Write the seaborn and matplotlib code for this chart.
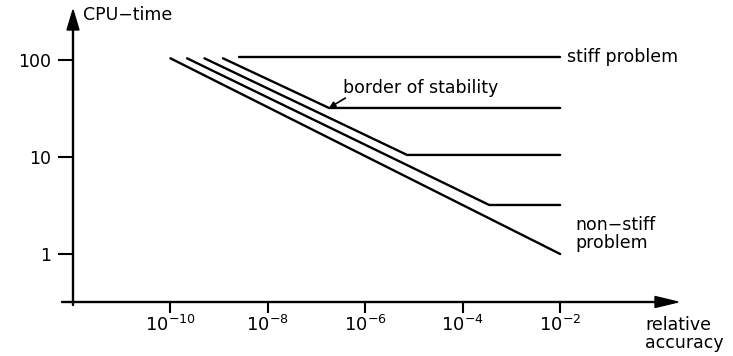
import matplotlib
matplotlib.use("Agg")
import matplotlib.pyplot as plt
from matplotlib.patches import Polygon
from matplotlib.ticker import NullLocator, FixedFormatter, FixedLocator
import seaborn as sns

# Work-precision sketch: CPU time versus requested relative accuracy
nonstiff_acc = [1e-10, 1e-2]
nonstiff_cpu = [104, 1]

curve_b_acc = [2.2e-10, 3.5e-4, 1e-2]
curve_b_cpu = [104, 3.2, 3.2]

curve_c_acc = [5.0e-10, 7.2e-6, 1e-2]
curve_c_cpu = [104, 10.5, 10.5]

curve_d_acc = [1.2e-9, 1.8e-7, 1e-2]
curve_d_cpu = [104, 32, 32]

stiff_acc = [2.5e-9, 1e-2]
stiff_cpu = [107, 107]

x_ticks = [1e-10, 1e-8, 1e-6, 1e-4, 1e-2]
x_tick_labels = [r"$10^{-10}$", r"$10^{-8}$", r"$10^{-6}$", r"$10^{-4}$", r"$10^{-2}$"]
y_ticks = [1, 10, 100]
y_tick_labels = ["1", "10", "100"]

sns.set_theme(style="white")
plt.rcParams["font.family"] = ["DejaVu Sans"]
plt.rcParams["mathtext.fontset"] = "dejavusans"
plt.rcParams["text.color"] = "black"

W, H = 733, 356
fig = plt.figure(figsize=(W / 100, H / 100), dpi=100)
ax = fig.add_axes([73 / W, (H - 302) / H, 605 / W, 292 / H])

lw = 1.7
for xs, ys in [(nonstiff_acc, nonstiff_cpu), (curve_b_acc, curve_b_cpu),
               (curve_c_acc, curve_c_cpu), (curve_d_acc, curve_d_cpu),
               (stiff_acc, stiff_cpu)]:
    sns.lineplot(x=xs, y=ys, ax=ax, color="black", linewidth=lw,
                 sort=False, estimator=None)

ax.set_xscale("log")
ax.set_yscale("log")
ax.set_xlim(10 ** -12, 10 ** 0.42)
ax.set_ylim(10 ** -0.495, 10 ** 2.515)

ax.xaxis.set_major_locator(FixedLocator(x_ticks))
ax.xaxis.set_major_formatter(FixedFormatter(x_tick_labels))
ax.yaxis.set_major_locator(FixedLocator(y_ticks))
ax.yaxis.set_major_formatter(FixedFormatter(y_tick_labels))
ax.xaxis.set_minor_locator(NullLocator())
ax.yaxis.set_minor_locator(NullLocator())

ax.tick_params(axis="y", direction="out", length=11, width=1.5, left=True,
               pad=5, labelsize=12.5, colors="black")
ax.tick_params(axis="x", direction="out", length=8, width=1.5, bottom=True,
               pad=1, labelsize=13, colors="black")
for sp in ax.spines.values():
    sp.set_visible(False)

# Arrowed axes
ax_w, ax_h = 605, 292
ax.plot([-11 / ax_w, 0.962], [0, 0], color="black", lw=1.7,
        transform=ax.transAxes, clip_on=False)
ax.plot([0, 0], [-3 / ax_h, 0.9315], color="black", lw=1.7,
        transform=ax.transAxes, clip_on=False)
ax.add_patch(Polygon([[0.962, -5.5 / ax_h], [1.0, 0], [0.962, 5.5 / ax_h]],
                     closed=True, color="black", transform=ax.transAxes,
                     clip_on=False))
ax.add_patch(Polygon([[-6 / ax_w, 0.9315], [0, 1.0], [6 / ax_w, 0.9315]],
                     closed=True, color="black", transform=ax.transAxes,
                     clip_on=False))

fs = 12.5
fig.text(83 / W, 1 - 15 / H, "CPU\u2212time", fontsize=fs, ha="left",
         va="center", color="black")
fig.text(645 / W, 1 - 333.5 / H, "relative\naccuracy", fontsize=fs,
         ha="left", va="center", linespacing=1.0, color="black")

ax.text(1.4e-2, 107, "stiff problem", fontsize=fs, ha="left", va="center",
        color="black")
ax.text(2.1e-2, 1.6, "non\u2212stiff\nproblem", fontsize=fs, ha="left",
        va="center", linespacing=1.0, color="black")
ax.text(3.5e-7, 51, "border of stability", fontsize=fs, ha="left",
        va="center", color="black")
ax.annotate("", xy=(1.8e-7, 32), xytext=(3.9e-7, 40.5),
            arrowprops=dict(arrowstyle="-|>", color="black", lw=1.2,
                            mutation_scale=9, shrinkA=0, shrinkB=0))

fig.savefig("out.png", dpi=100, facecolor="white")
